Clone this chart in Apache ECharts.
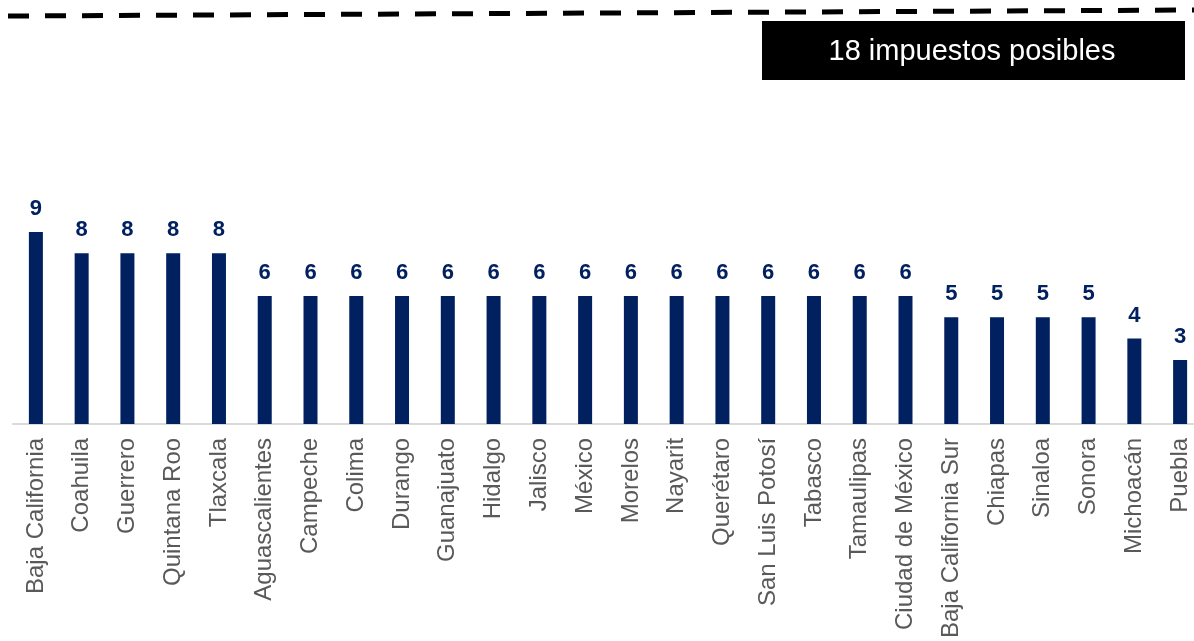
<!DOCTYPE html>
<html>
<head>
<meta charset="utf-8">
<script src="https://cdn.jsdelivr.net/npm/echarts@6/dist/echarts.min.js"></script>
<style>
html,body{margin:0;padding:0;background:#fff;overflow:hidden;width:1194px;height:641px;}
#chart{width:1210px;height:641px;}
</style>
</head>
<body>
<div id="chart"></div>
<script>
var states = ["Baja California","Coahuila","Guerrero","Quintana Roo","Tlaxcala","Aguascalientes","Campeche","Colima","Durango","Guanajuato","Hidalgo","Jalisco","México","Morelos","Nayarit","Querétaro","San Luis Potosí","Tabasco","Tamaulipas","Ciudad de México","Baja California Sur","Chiapas","Sinaloa","Sonora","Michoacán","Puebla"];
var impuestos = [9,8,8,8,8,6,6,6,6,6,6,6,6,6,6,6,6,6,6,6,5,5,5,5,4,3];
var posibles = 18;
var boxText = posibles + " impuestos posibles";

var chart = echarts.init(document.getElementById('chart'), null, {renderer:'canvas'});
var FONT = "'Liberation Sans', Arial, sans-serif";
chart.setOption({
  animation:false,
  backgroundColor:'#ffffff',
  grid:{left:13, width:1190, top:40, bottom:215, containLabel:false},
  xAxis:{
    type:'category',
    data:states,
    axisLine:{show:true, lineStyle:{color:'#d9d9d9', width:2}},
    axisTick:{show:false},
    axisLabel:{rotate:90, interval:0, color:'#595959', fontSize:24, fontFamily:FONT, margin:14}
  },
  yAxis:{
    type:'value', min:0, max:posibles, interval:posibles/2,
    show:false, splitLine:{show:false}
  },
  series:[{
    type:'bar',
    data:impuestos,
    barWidth:14,
    itemStyle:{color:'#002060'},
    label:{show:true, position:'top', distance:12, color:'#002060', fontWeight:'bold', fontSize:22, fontFamily:FONT}
  }],
  graphic:[
    {type:'line', shape:{x1:8, y1:16, x2:1194, y2:10}, style:{stroke:'#000', lineWidth:5, lineDash:[21,16]}},
    {type:'rect', shape:{x:762, y:21, width:423, height:59}, style:{fill:'#000'}},
    {type:'text', x:972, y:52, style:{text:boxText, fill:'#fff', font:"29px 'Liberation Sans', Arial, sans-serif", align:'center', verticalAlign:'middle'}}
  ]
});
</script>
</body>
</html>
